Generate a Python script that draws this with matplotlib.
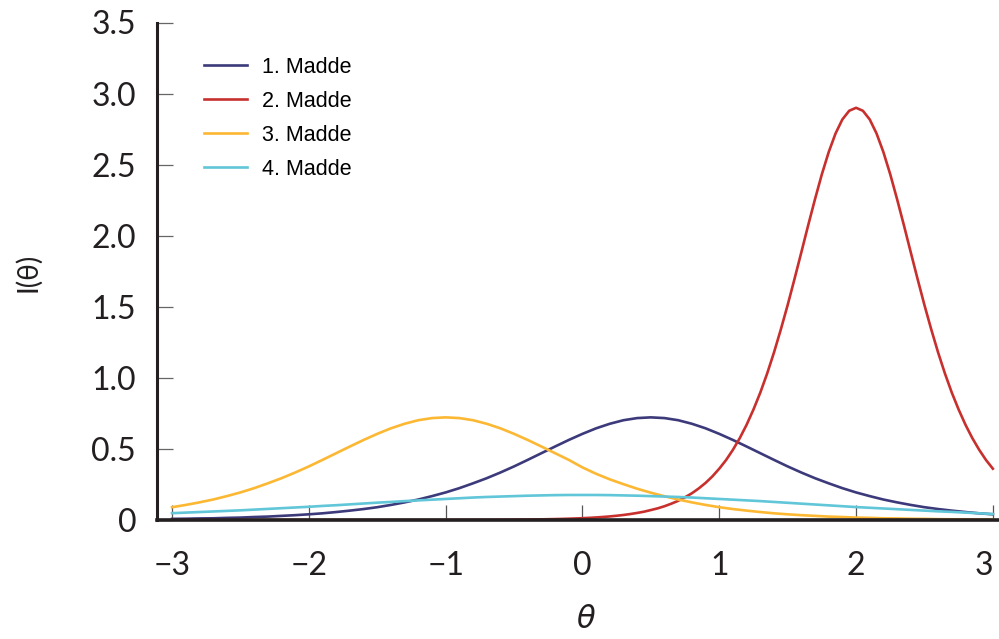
import numpy as np
import matplotlib.pyplot as plt

# ability grids
theta = np.linspace(-3, 3, 61)
theta_fine = np.linspace(-3, 3, 121)

# item information curves, read at theta = -3.0, -2.9, ..., 3.0
item1 = [0.008, 0.009, 0.011, 0.012, 0.015, 0.017, 0.021, 0.024, 0.029, 0.034,
         0.040, 0.047, 0.056, 0.066, 0.077, 0.090, 0.106, 0.124, 0.144, 0.168,
         0.194, 0.224, 0.258, 0.294, 0.334, 0.377, 0.423, 0.470, 0.517, 0.563,
         0.606, 0.645, 0.677, 0.702, 0.717, 0.722, 0.717, 0.702, 0.677, 0.645,
         0.606, 0.563, 0.517, 0.470, 0.423, 0.377, 0.334, 0.294, 0.258, 0.224,
         0.194, 0.168, 0.144, 0.124, 0.106, 0.090, 0.077, 0.066, 0.056, 0.047,
         0.040]
# item 2 is sharp, so it is read on the finer grid (step 0.05)
item2 = [0.0] * 41 + [
    0.0005, 0.0006, 0.0007, 0.0008, 0.001, 0.0012, 0.0014, 0.0016, 0.002, 0.0023,
    0.0028, 0.0033, 0.0039, 0.0046, 0.0055, 0.0065, 0.0077, 0.0091, 0.0108, 0.0128,
    0.0152, 0.0179, 0.0213, 0.0252, 0.0299, 0.0354, 0.042, 0.0497, 0.0585, 0.070,
    0.082, 0.097, 0.115, 0.135, 0.160, 0.188, 0.222, 0.261, 0.307, 0.361,
    0.422, 0.494, 0.576, 0.670, 0.777, 0.896, 1.030, 1.178, 1.340, 1.512,
    1.695, 1.883, 2.073, 2.257, 2.432, 2.588, 2.719, 2.818, 2.879, 2.900,
    2.879, 2.818, 2.719, 2.588, 2.432, 2.257, 2.073, 1.883, 1.695, 1.512,
    1.340, 1.178, 1.030, 0.896, 0.777, 0.670, 0.576, 0.494, 0.422, 0.361]
item3 = [0.090, 0.106, 0.124, 0.144, 0.168, 0.194, 0.224, 0.258, 0.294, 0.334,
         0.377, 0.423, 0.470, 0.517, 0.563, 0.606, 0.645, 0.677, 0.702, 0.717,
         0.722, 0.717, 0.702, 0.677, 0.645, 0.606, 0.563, 0.517, 0.470, 0.423,
         0.370, 0.325, 0.286, 0.252, 0.220, 0.192, 0.167, 0.144, 0.124, 0.106,
         0.090, 0.077, 0.066, 0.056, 0.047, 0.040, 0.034, 0.029, 0.024, 0.021,
         0.017, 0.015, 0.012, 0.011, 0.009, 0.008, 0.006, 0.005, 0.005, 0.004,
         0.003]
item4 = [0.048, 0.052, 0.056, 0.060, 0.064, 0.068, 0.073, 0.078, 0.083, 0.088,
         0.093, 0.099, 0.104, 0.110, 0.116, 0.122, 0.127, 0.133, 0.138, 0.143,
         0.148, 0.153, 0.158, 0.162, 0.165, 0.168, 0.171, 0.173, 0.175, 0.176,
         0.176, 0.176, 0.175, 0.173, 0.171, 0.168, 0.165, 0.162, 0.158, 0.153,
         0.148, 0.143, 0.138, 0.133, 0.127, 0.121, 0.115, 0.109, 0.103, 0.097,
         0.091, 0.086, 0.081, 0.076, 0.071, 0.066, 0.061, 0.057, 0.052, 0.047,
         0.042]

labels = ["1. Madde", "2. Madde", "3. Madde", "4. Madde"]
colors = ["#3c3a7a", "#c8302e", "#fcb833", "#60c6d8"]

xticks = [-3, -2, -1, 0, 1, 2, 3]
xticklabels = ["\u22123", "\u22122", "\u22121", "0", "1", "2", "3"]
yticks = [0, 0.5, 1.0, 1.5, 2.0, 2.5, 3.0, 3.5]
yticklabels = ["0", "0.5", "1.0", "1.5", "2.0", "2.5", "3.0", "3.5"]

W, H = 999, 639
fig = plt.figure(figsize=(W / 100, H / 100), dpi=100)
ax = fig.add_axes([157 / W, 1 - 520 / H, 842 / W, 497.5 / H])

grids = [theta, theta_fine, theta, theta]
for x, y, lab, c in zip(grids, [item1, item2, item3, item4], labels, colors):
    ax.plot(x, y, color=c, lw=1.9, label=lab, solid_joinstyle="round")

ax.set_xlim(-3.11, 3.045)
ax.set_ylim(0, 3.5)

for side in ["top", "right"]:
    ax.spines[side].set_visible(False)
ax.spines["left"].set_linewidth(2.2)
ax.spines["bottom"].set_linewidth(2.6)
for side in ["left", "bottom"]:
    ax.spines[side].set_color("#231f20")

tick_font = dict(family=["Lato", "DejaVu Sans"], size=23, color="#231f20")
ax.set_xticks(xticks)
ax.set_xticklabels(xticklabels, fontdict=tick_font)
ax.set_yticks(yticks)
ax.set_yticklabels(yticklabels, fontdict=tick_font)
ax.tick_params(axis="x", direction="in", length=11, width=0.9,
               color="#555555", pad=22)
ax.tick_params(axis="y", direction="in", length=11.5, width=0.9,
               color="#666666", pad=15)
# last x label sits right at the figure edge
ax.get_xticklabels()[-1].set_horizontalalignment("right")
ax.get_xticklabels()[-1].set_x(3.045)

fig.text(586 / W, 1 - 620 / H, "\u03b8", ha="center", va="center",
         fontsize=22, style="italic", family="DejaVu Sans",
         color="#231f20")
fig.text(28 / W, 1 - 272 / H, "I(\u03b8)", ha="center", va="center",
         rotation=90, fontsize=20, family=["Lato", "DejaVu Sans"],
         color="#231f20")

ax.legend(loc="upper left", bbox_to_anchor=(204 / W, 1 - 57 / H),
          bbox_transform=fig.transFigure, frameon=False, borderpad=0,
          borderaxespad=0, handlelength=2.0, handletextpad=0.7,
          labelspacing=0.6, prop=dict(family="Liberation Sans", size=15.5))

fig.savefig("out.png", dpi=100)
